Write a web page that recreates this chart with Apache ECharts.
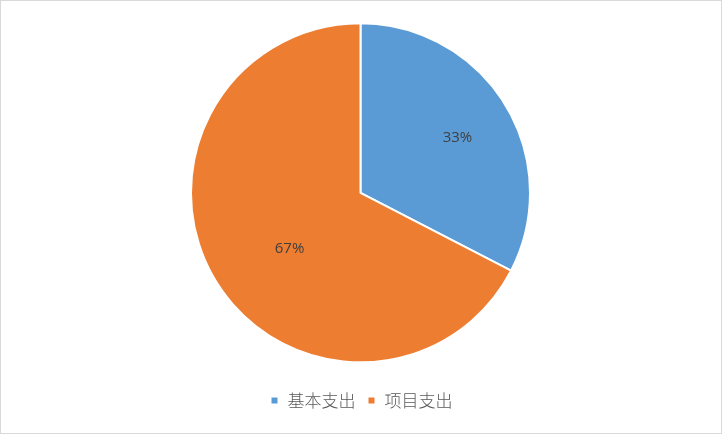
<!DOCTYPE html>
<html>
<head>
<meta charset="utf-8">
<script src="https://cdn.jsdelivr.net/npm/echarts@6/dist/echarts.min.js"></script>
<style>
html,body{margin:0;padding:0;background:#fff;}
#frame{position:absolute;left:0;top:0;width:722px;height:434px;box-sizing:border-box;border:1px solid #d9d9d9;}
#chart{position:absolute;left:0;top:0;width:722px;height:434px;}
</style>
</head>
<body>
<div id="frame"></div>
<div id="chart"></div>
<script>
var categories = ['基本支出', '项目支出'];
var values = [32.6, 67.4];
var colors = ['#5B9BD5', '#ED7D31'];
var labelOffsets = [[22, -9], [4, 10]];

var chart = echarts.init(document.getElementById('chart'), null, {renderer: 'canvas'});
chart.setOption({
  animation: false,
  backgroundColor: 'transparent',
  color: colors,
  legend: {
    data: categories,
    bottom: 20,
    left: 'center',
    icon: 'rect',
    itemWidth: 8,
    itemHeight: 8,
    itemGap: 11,
    textStyle: {
      fontFamily: 'Noto Sans CJK SC',
      fontWeight: 300,
      fontSize: 17,
      color: '#595959',
      padding: [0, 0, 0, 4]
    }
  },
  series: [{
    type: 'pie',
    center: [360.5, 192.8],
    radius: 169.5,
    startAngle: 90,
    clockwise: true,
    itemStyle: {borderColor: '#fff', borderWidth: 2},
    label: {
      show: true,
      position: 'inside',
      color: '#404040',
      fontFamily: 'Open Sans',
      fontSize: 15,
      formatter: function (p) { return Math.round(p.percent) + '%'; }
    },
    labelLine: {show: false},
    emphasis: {disabled: true},
    data: categories.map(function (c, i) {
      return {name: c, value: values[i], label: {offset: labelOffsets[i]}};
    })
  }]
});
</script>
</body>
</html>
